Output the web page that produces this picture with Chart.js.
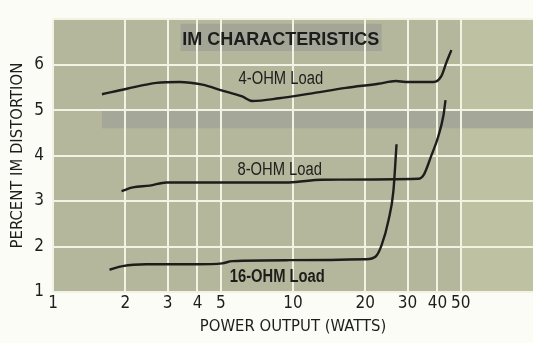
<!DOCTYPE html>
<html>
<head>
<meta charset="utf-8">
<script src="https://cdn.jsdelivr.net/npm/chart.js@4/dist/chart.umd.min.js"></script>
<style>
  html, body { margin: 0; padding: 0; background: #fcfcf7; }
  #wrap { width: 533px; height: 343px; }
</style>
</head>
<body>
<div id="wrap"><canvas id="im"></canvas></div>
<script>
// Tick positions on each axis
const xTickValues = [1, 2, 3, 4, 5, 10, 20, 30, 40, 50];
const yTickValues = [1, 2, 3, 4, 5, 6];

// 4-ohm load: power output (W) vs. IM distortion (%)
const ohm4Power      = [1.60, 2.03, 2.70, 3.37, 4.19, 5.08, 6.14, 6.76, 8.75, 12.0, 16.6, 22.7, 26.8, 29.4, 38.5, 41.5, 43.5, 45.7];
const ohm4Distortion = [5.35, 5.47, 5.60, 5.62, 5.56, 5.43, 5.30, 5.20, 5.26, 5.37, 5.49, 5.58, 5.64, 5.62, 5.62, 5.75, 6.04, 6.32];

// 8-ohm load
const ohm8Power      = [1.93, 2.15, 2.53, 2.97, 4.07, 9.62, 13.2, 33.3, 35.0, 37.7, 40.3, 42.4, 43.2];
const ohm8Distortion = [3.22, 3.30, 3.34, 3.41, 3.41, 3.41, 3.47, 3.49, 3.57, 4.00, 4.42, 4.90, 5.22];

// 16-ohm load
const ohm16Power      = [1.72, 1.95, 2.45, 3.96, 5.07, 5.58, 9.62, 20.1, 22.1, 23.4, 25.0, 26.2, 27.0];
const ohm16Distortion = [1.49, 1.57, 1.61, 1.61, 1.63, 1.68, 1.70, 1.72, 1.78, 2.03, 2.58, 3.22, 4.25];

const curveLabels = ['4-OHM Load', '8-OHM Load', '16-OHM Load'];
const chartTitle = 'IM CHARACTERISTICS';

const NARROW = "'DejaVu Sans Condensed', 'Liberation Sans Narrow', sans-serif";
const SANS = "'Liberation Sans', Arial, sans-serif";
const INK = '#1d1d1b';

const pairs = (xs, ys) => xs.map((x, i) => ({ x, y: ys[i] }));

// In-plot text: [text, x value, y value, font, horizontal squeeze]
const plotTexts = [
  [chartTitle,     8.9, 6.55, 'bold 18px ' + SANS, 1.0],
  [curveLabels[0], 8.9, 5.68, '18px ' + SANS, 0.82],
  [curveLabels[1], 8.8, 3.69, '18px ' + SANS, 0.82],
  [curveLabels[2], 8.6, 1.32, 'bold 18px ' + SANS, 0.82]
];

const paperPlugin = {
  id: 'paper',
  beforeDraw(chart) {
    const { ctx, chartArea: a, scales } = chart;
    const x = scales.x, y = scales.y;
    const rect = (x0, x1, y0, y1, c) => {
      const px0 = x.getPixelForValue(x0), px1 = x1 === null ? a.right : x.getPixelForValue(x1);
      const py0 = y.getPixelForValue(y0), py1 = y.getPixelForValue(y1);
      ctx.fillStyle = c;
      ctx.fillRect(px0, py0, px1 - px0, py1 - py0);
    };
    ctx.save();
    ctx.fillStyle = '#fcfcf7';
    ctx.fillRect(0, 0, chart.width, chart.height);
    // olive halftone paper
    ctx.fillStyle = '#b4b79c';
    ctx.fillRect(a.left, a.top, a.right - a.left, a.bottom - a.top);
    // lighter strip past the last grid column
    rect(50, null, 7, 1, '#bec2a2');
    // darker grey band just under the 5% line
    rect(1.6, null, 5, 4.6, '#a5a799');
    // grey panel behind the heading
    rect(3.4, 23.4, 6.9, 6.3, '#a3a597');
    ctx.restore();
  },
  afterDatasetsDraw(chart) {
    const { ctx, scales } = chart;
    plotTexts.forEach(([t, xv, yv, font, squeeze]) => {
      ctx.save();
      ctx.translate(scales.x.getPixelForValue(xv), scales.y.getPixelForValue(yv));
      ctx.scale(squeeze, 1);
      ctx.textAlign = 'center';
      ctx.textBaseline = 'middle';
      ctx.fillStyle = INK;
      ctx.font = font;
      ctx.fillText(t, 0, 0);
      ctx.restore();
    });
  }
};

const lineStyle = {
  borderColor: INK,
  borderWidth: 2.4,
  pointRadius: 0,
  fill: false,
  cubicInterpolationMode: 'monotone'
};

new Chart(document.getElementById('im'), {
  type: 'line',
  data: {
    datasets: [
      { label: curveLabels[0], data: pairs(ohm4Power, ohm4Distortion), ...lineStyle },
      { label: curveLabels[1], data: pairs(ohm8Power, ohm8Distortion), ...lineStyle },
      { label: curveLabels[2], data: pairs(ohm16Power, ohm16Distortion), ...lineStyle }
    ]
  },
  options: {
    responsive: true,
    maintainAspectRatio: false,
    animation: false,
    layout: { padding: { top: 8, right: 0, bottom: 0, left: 0 } },
    plugins: { legend: { display: false }, tooltip: { enabled: false } },
    scales: {
      x: {
        type: 'logarithmic',
        min: 1,
        max: 100,
        afterBuildTicks(scale) { scale.ticks = xTickValues.map(v => ({ value: v })); },
        afterFit(scale) { scale.height = 51; },
        border: { display: false },
        grid: { color: '#f3f3e4', lineWidth: 2, drawTicks: false },
        ticks: {
          autoSkip: false,
          maxRotation: 0,
          padding: 1,
          color: INK,
          font: { family: NARROW, size: 17 },
          callback: v => String(v)
        },
        title: {
          display: true,
          text: 'POWER OUTPUT (WATTS)',
          color: INK,
          font: { family: NARROW, size: 16.5 },
          padding: { top: 0, bottom: 6 }
        }
      },
      y: {
        min: 1,
        max: 7,
        afterBuildTicks(scale) { scale.ticks = yTickValues.concat([7]).map(v => ({ value: v })); },
        afterFit(scale) { scale.width = 53; },
        border: { display: false },
        grid: { color: '#f3f3e4', lineWidth: 2, drawTicks: false },
        ticks: {
          padding: 9,
          color: INK,
          font: { family: NARROW, size: 17 },
          callback: v => (yTickValues.includes(v) ? String(v) : '')
        },
        title: {
          display: true,
          text: 'PERCENT IM DISTORTION',
          color: INK,
          font: { family: NARROW, size: 16.5 },
          padding: { top: 8, bottom: 0 }
        }
      }
    }
  },
  plugins: [paperPlugin]
});
</script>
</body>
</html>
